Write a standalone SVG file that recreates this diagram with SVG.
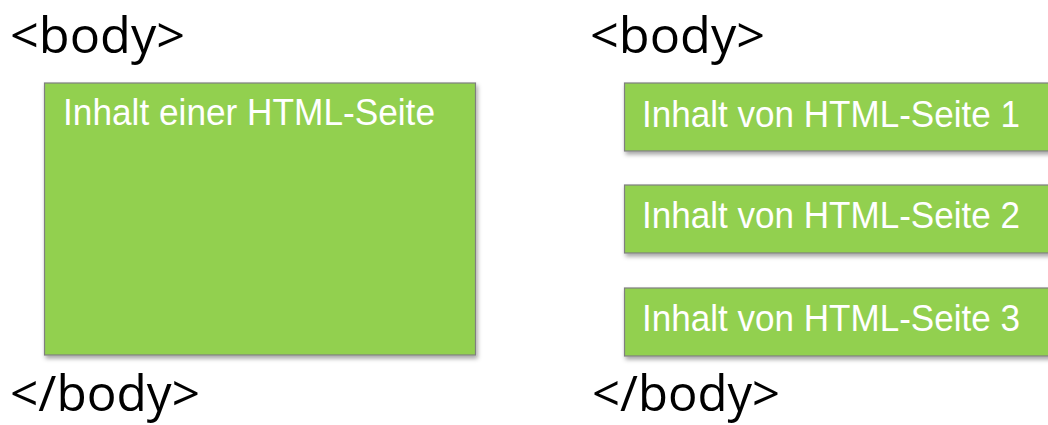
<svg xmlns="http://www.w3.org/2000/svg" width="1048" height="425" viewBox="0 0 1048 425">
<defs>
<filter id="sh" x="-5%" y="-10%" width="115%" height="130%">
<feDropShadow dx="1.5" dy="3" stdDeviation="2" flood-color="#000" flood-opacity="0.35"/>
</filter>
<style>
.tag{font-family:"Open Sans","DejaVu Sans",sans-serif;font-size:50px;fill:#000}
.box{fill:#92D050;stroke:#7F7F7F;stroke-width:1.2;filter:url(#sh)}
.lbl{font-family:"Liberation Sans",Arial,sans-serif;font-size:37px;fill:#fff}
</style>
</defs>
<rect width="1048" height="425" fill="#fff"/>
<g id="tags">
<text class="tag" x="10" y="53" textLength="175" lengthAdjust="spacingAndGlyphs">&lt;body&gt;</text>
<text class="tag" x="10" y="411" textLength="190" lengthAdjust="spacingAndGlyphs">&lt;/body&gt;</text>
<text class="tag" x="590" y="53" textLength="175" lengthAdjust="spacingAndGlyphs">&lt;body&gt;</text>
<text class="tag" x="592" y="411" textLength="188" lengthAdjust="spacingAndGlyphs">&lt;/body&gt;</text>
</g>
<g id="node-left">
<rect class="box" x="44.5" y="83" width="431" height="272"/>
<text class="lbl" x="63" y="125" textLength="372" lengthAdjust="spacingAndGlyphs">Inhalt einer HTML-Seite</text>
</g>
<g id="node-right-1">
<rect class="box" x="624.5" y="83" width="440" height="68"/>
<text class="lbl" x="642" y="127" textLength="378" lengthAdjust="spacingAndGlyphs">Inhalt von HTML-Seite 1</text>
</g>
<g id="node-right-2">
<rect class="box" x="624.5" y="185" width="440" height="68"/>
<text class="lbl" x="642" y="228" textLength="378" lengthAdjust="spacingAndGlyphs">Inhalt von HTML-Seite 2</text>
</g>
<g id="node-right-3">
<rect class="box" x="624.5" y="288" width="440" height="68"/>
<text class="lbl" x="642" y="331" textLength="378" lengthAdjust="spacingAndGlyphs">Inhalt von HTML-Seite 3</text>
</g>
<g id="connectors"/>
</svg>
